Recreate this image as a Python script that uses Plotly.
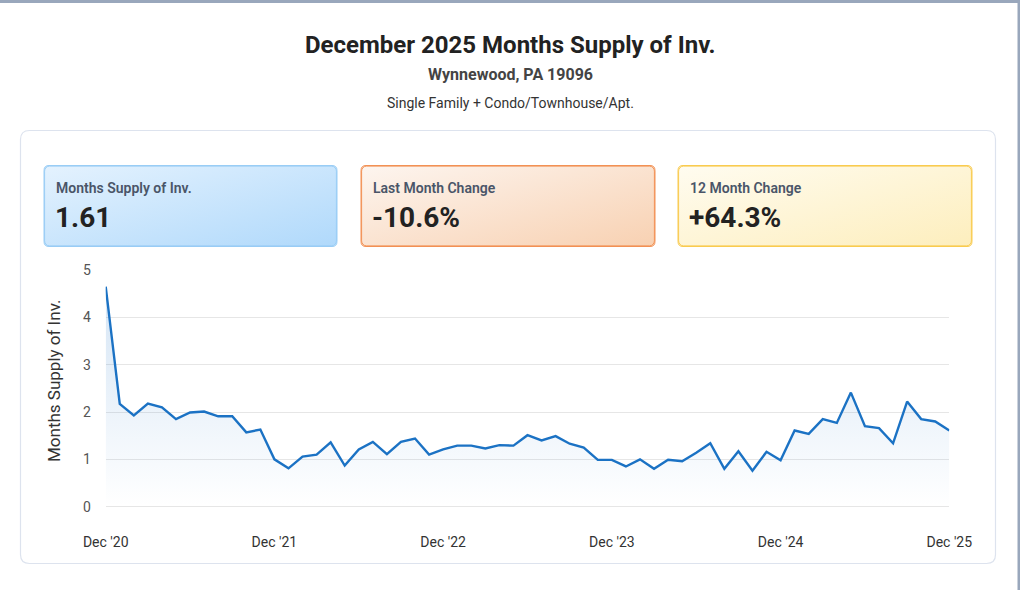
import base64
import plotly.graph_objects as go

# ---------------- data ----------------
month_names = ["Jan", "Feb", "Mar", "Apr", "May", "Jun", "Jul", "Aug", "Sep", "Oct", "Nov", "Dec"]
months = ["Dec '20"] + [f"{m} '{y:02d}" for y in range(21, 26) for m in month_names]

supply = [
    4.65, 2.17, 1.93, 2.18, 2.10, 1.85, 1.99, 2.01, 1.91, 1.91, 1.57, 1.63,
    1.00, 0.81, 1.06, 1.10, 1.36, 0.87, 1.21, 1.37, 1.11, 1.37, 1.44, 1.10,
    1.21, 1.29, 1.29, 1.23, 1.30, 1.29, 1.51, 1.40, 1.49, 1.33, 1.25, 0.99,
    0.99, 0.85, 1.00, 0.80, 0.99, 0.96, 1.14, 1.34, 0.80, 1.17, 0.76, 1.16,
    0.98, 1.61, 1.54, 1.85, 1.77, 2.41, 1.70, 1.66, 1.34, 2.22, 1.85, 1.80,
    1.61,
]

tick_labels = ["Dec '20", "Dec '21", "Dec '22", "Dec '23", "Dec '24", "Dec '25"]
y_ticks = [0, 1, 2, 3, 4, 5]

card_titles = ["Months Supply of Inv.", "Last Month Change", "12 Month Change"]
card_values = ["1.61", "-10.6%", "+64.3%"]

title_text = "December 2025 Months Supply of Inv."
subtitle_text = "Wynnewood, PA 19096"
segment_text = "Single Family + Condo/Townhouse/Apt."
y_title = "Months Supply of Inv."

# ---------------- layout helpers ----------------
W, H = 1020, 590


def px(x):
    return x / W


def py(y):
    return 1 - y / H


def rounded_rect(x0, y0, x1, y1, r):
    X0, X1 = px(x0), px(x1)
    Y0, Y1 = py(y0), py(y1)
    rx, ry = r / W, r / H
    return (
        f"M {X0+rx},{Y0} L {X1-rx},{Y0} Q {X1},{Y0} {X1},{Y0-ry} "
        f"L {X1},{Y1+ry} Q {X1},{Y1} {X1-rx},{Y1} L {X0+rx},{Y1} "
        f"Q {X0},{Y1} {X0},{Y1+ry} L {X0},{Y0-ry} Q {X0},{Y0} {X0+rx},{Y0} Z"
    )


def hexmix(c0, c1, t):
    a = [int(c0[i:i + 2], 16) for i in (1, 3, 5)]
    b = [int(c1[i:i + 2], 16) for i in (1, 3, 5)]
    return "#" + "".join(f"{round(a[k] + (b[k] - a[k]) * t):02x}" for k in range(3))


def card_svg(w, h, c0, c1, stroke):
    svg = (
        f'<svg xmlns="http://www.w3.org/2000/svg" width="{w}" height="{h}" viewBox="0 0 {w} {h}">'
        f'<defs><linearGradient id="g" x1="0" y1="0" x2="1" y2="1">'
        f'<stop offset="0" stop-color="{c0}"/><stop offset="1" stop-color="{c1}"/>'
        f'</linearGradient></defs>'
        f'<rect x="0.6" y="0.6" width="{w-1.2}" height="{h-1.2}" rx="5" ry="5" '
        f'fill="url(#g)" stroke="{stroke}" stroke-width="1"/></svg>'
    )
    return "data:image/svg+xml;base64," + base64.b64encode(svg.encode()).decode()


# plot area pixels
PX0, PX1 = 105.7, 949.3
PY_TOP, PY_BOT = 270.0, 506.7

fig = go.Figure()

fig.add_trace(
    go.Scatter(
        x=list(range(len(supply))),
        y=supply,
        customdata=months,
        mode="lines",
        line=dict(color="#1b72c4", width=2.4),
        fill="tozeroy",
        fillgradient=dict(
            type="vertical",
            colorscale=[[0, "rgba(30,115,200,0.0)"], [1, "rgba(30,115,200,0.19)"]],
            start=0,
            stop=4.7,
        ),
        hovertemplate="%{customdata}: %{y:.2f}<extra></extra>",
        cliponaxis=False,
    )
)

tick_positions = [i for i, m in enumerate(months) if m.startswith("Dec")]

fig.update_xaxes(
    domain=[px(PX0), px(PX1)],
    range=[0, len(supply) - 1],
    tickvals=tick_positions,
    ticktext=tick_labels,
    showgrid=False,
    zeroline=False,
    showline=False,
    automargin=False,
    ticks="outside",
    ticklen=22,
    tickcolor="rgba(0,0,0,0)",
    tickfont=dict(family="Roboto", size=14, color="#333333"),
)
fig.update_yaxes(
    domain=[py(PY_BOT), py(PY_TOP)],
    range=[0, 5],
    tickvals=y_ticks,
    showgrid=True,
    gridcolor="#e6e6e6",
    gridwidth=1,
    zeroline=True,
    zerolinecolor="#e6e6e6",
    zerolinewidth=1,
    showline=False,
    automargin=False,
    ticks="outside",
    ticklen=11,
    tickcolor="rgba(0,0,0,0)",
    tickfont=dict(family="Roboto", size=14, color="#555555"),
)

shapes = [
    dict(type="rect", xref="paper", yref="paper", x0=0, x1=1, y0=py(3), y1=1,
         fillcolor="#99a7bc", line=dict(width=0), layer="below"),
    dict(type="rect", xref="paper", yref="paper", x0=px(1017.5), x1=1, y0=0, y1=1,
         fillcolor="#99a7bc", line=dict(width=0), layer="below"),
    dict(type="path", xref="paper", yref="paper", path=rounded_rect(20.5, 130.5, 995.5, 563.5, 9),
         fillcolor="rgba(0,0,0,0)", line=dict(color="#dde3ee", width=1.2), layer="below"),
]

cards = [
    (44, 337, "#e4f2fe", "#b0d9fb", "#9acdf5"),
    (361, 655, "#fdf5ef", "#f8d1b2", "#f29155"),
    (678, 972, "#fffcf0", "#fdeebd", "#f9cb50"),
]
CY0, CY1 = 165.5, 246.5
images = []
annotations = []
for (x0, x1, c0, c1, st), t, v in zip(cards, card_titles, card_values):
    w, h = x1 - x0, CY1 - CY0
    # solid fallback underneath the gradient image
    shapes.append(dict(type="path", xref="paper", yref="paper",
                       path=rounded_rect(x0, CY0, x1, CY1, 5),
                       fillcolor=hexmix(c0, c1, 0.5), line=dict(color=st, width=1),
                       layer="below"))
    images.append(dict(
        source=card_svg(int(round(w)), int(round(h)), c0, c1, st),
        xref="paper", yref="paper", x=px(x0), y=py(CY0),
        sizex=w / W, sizey=h / H, xanchor="left", yanchor="top",
        sizing="stretch", layer="above",
    ))
    annotations.append(dict(
        text=t, x=px(x0 + 10), y=py(188), xref="paper", yref="paper",
        xanchor="left", yanchor="middle", showarrow=False,
        font=dict(family="Roboto", size=14, color="#4a5568", weight=600),
    ))
    annotations.append(dict(
        text=v, x=px(x0 + 9), y=py(218), xref="paper", yref="paper",
        xanchor="left", yanchor="middle", showarrow=False,
        font=dict(family="Roboto", size=28, color="#222222", weight=700),
    ))

annotations += [
    dict(text=title_text, x=0.5, y=py(45), xref="paper", yref="paper",
         xanchor="center", yanchor="middle", showarrow=False,
         font=dict(family="Roboto", size=24, color="#222222", weight=700)),
    dict(text=subtitle_text, x=0.5, y=py(74), xref="paper", yref="paper",
         xanchor="center", yanchor="middle", showarrow=False,
         font=dict(family="Roboto", size=16, color="#444444", weight=700)),
    dict(text=segment_text, x=0.5, y=py(103), xref="paper", yref="paper",
         xanchor="center", yanchor="middle", showarrow=False,
         font=dict(family="Roboto", size=14, color="#333333")),
    dict(text=y_title, x=px(54), y=py(381), xref="paper", yref="paper",
         xanchor="center", yanchor="middle", textangle=-90, showarrow=False,
         font=dict(family="Roboto", size=17, color="#333333")),
]

fig.update_layout(
    width=W,
    height=H,
    margin=dict(l=0, r=0, t=0, b=0, autoexpand=False),
    paper_bgcolor="white",
    plot_bgcolor="rgba(0,0,0,0)",
    showlegend=False,
    shapes=shapes,
    images=images,
    annotations=annotations,
    font=dict(family="Roboto"),
)

fig.write_html(
    "out.html",
    config={"displayModeBar": False},
    post_script="document.body.style.margin='0';document.body.style.overflow='hidden';",
)
